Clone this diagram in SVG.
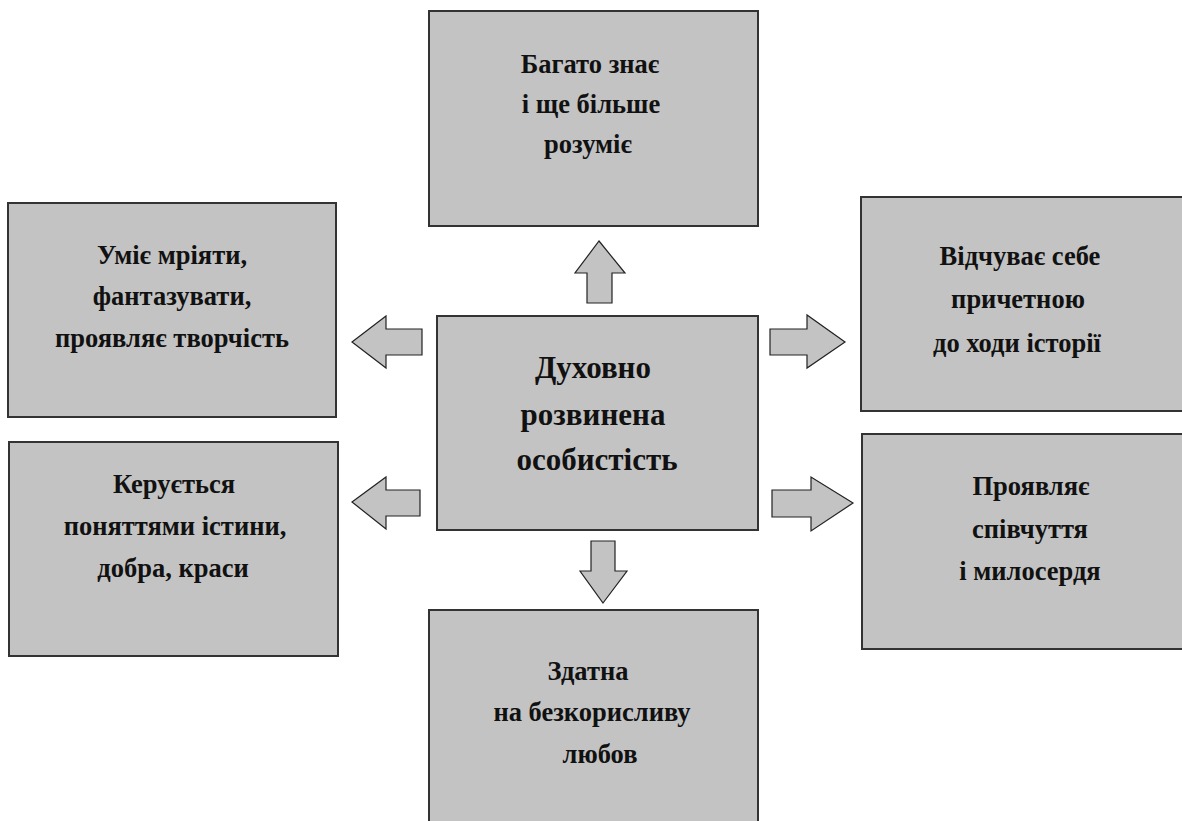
<svg xmlns="http://www.w3.org/2000/svg" width="1182" height="821" viewBox="0 0 1182 821">
<style>
.box{fill:#c3c3c3;stroke:#333;stroke-width:2}
.arr{fill:#c3c3c3;stroke:#222;stroke-width:1.2;stroke-linejoin:miter}
text{font-family:"Liberation Serif","DejaVu Serif",serif;fill:#111;text-anchor:middle;font-weight:bold}
.t{font-size:26.5px}
.c{font-size:31px}
</style>
<rect width="1182" height="821" fill="#fff"/>
<g id="connectors">
<polygon class="arr" points="599,241 625,273 612,273 612,303 587,303 587,273 575,273"/>
<polygon class="arr" points="352,342 386,316 386,329 422,329 422,355 386,355 386,368"/>
<polygon class="arr" points="352,502 386,477 386,490 420,490 420,516 386,516 386,529"/>
<polygon class="arr" points="845,342 807,315 807,329 770,329 770,355 807,355 807,368"/>
<polygon class="arr" points="853,503 811,477 811,490 772,490 772,517 811,517 811,531"/>
<polygon class="arr" points="603,603 627,571 615,571 615,541 591,541 591,571 580,571"/>
</g>
<g id="center">
<rect class="box" x="437" y="316" width="321" height="214"/>
<text class="c" x="593" y="378">Духовно</text>
<text class="c" x="593" y="425">розвинена</text>
<text class="c" x="597" y="470">особистість</text>
</g>
<g id="top">
<rect class="box" x="429" y="11" width="329" height="215"/>
<text class="t" x="590" y="73">Багато знає</text>
<text class="t" x="591" y="113">і ще більше</text>
<text class="t" x="588" y="153">розуміє</text>
</g>
<g id="left-top">
<rect class="box" x="8" y="203" width="328" height="214"/>
<text class="t" x="172" y="264">Уміє мріяти,</text>
<text class="t" x="172" y="305">фантазувати,</text>
<text class="t" x="172" y="347">проявляє творчість</text>
</g>
<g id="left-bottom">
<rect class="box" x="9" y="442" width="329" height="214"/>
<text class="t" x="174" y="493">Керується</text>
<text class="t" x="175" y="535">поняттями істини,</text>
<text class="t" x="173" y="577">добра, краси</text>
</g>
<g id="right-top">
<rect class="box" x="861" y="197" width="340" height="214"/>
<text class="t" x="1020" y="265">Відчуває себе</text>
<text class="t" x="1018" y="308">причетною</text>
<text class="t" x="1017" y="352">до ходи історії</text>
</g>
<g id="right-bottom">
<rect class="box" x="862" y="434" width="340" height="215"/>
<text class="t" x="1031" y="495">Проявляє</text>
<text class="t" x="1030" y="538">співчуття</text>
<text class="t" x="1030" y="580">і милосердя</text>
</g>
<g id="bottom">
<rect class="box" x="429" y="610" width="329" height="230"/>
<text class="t" x="588" y="680">Здатна</text>
<text class="t" x="592" y="721">на безкорисливу</text>
<text class="t" x="600" y="763">любов</text>
</g>
</svg>
